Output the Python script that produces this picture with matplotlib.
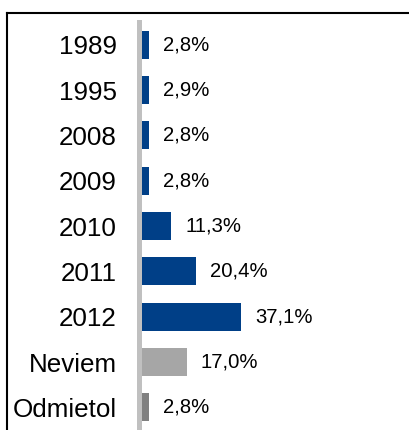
import matplotlib

matplotlib.use("Agg")
import matplotlib.pyplot as plt
from matplotlib.lines import Line2D

categories = ["1989", "1995", "2008", "2009", "2010", "2011", "2012", "Neviem", "Odmietol"]
values = [2.8, 2.9, 2.8, 2.8, 11.3, 20.4, 37.1, 17.0, 2.8]
labels = ["2,8%", "2,9%", "2,8%", "2,8%", "11,3%", "20,4%", "37,1%", "17,0%", "2,8%"]
colors = ["#003f87"] * 7 + ["#a6a6a6", "#808080"]

plt.rcParams["font.family"] = ["Liberation Sans", "DejaVu Sans"]

fig = plt.figure(figsize=(4.1, 4.3), dpi=100)
ax = fig.add_axes([141 / 410, 0, 1 - 141 / 410, 408 / 430])

y = list(range(len(categories)))
ax.barh(y, values, height=0.62, color=colors)
for yi, v, lab in zip(y, values, labels):
    ax.text(v + 5.3, yi, lab, va="center", ha="left", fontsize=14.6)

ax.set_xlim(0, 100)
ax.set_ylim(len(categories) - 0.5, -0.5)
ax.set_yticks(y)
ax.set_yticklabels(categories)
ax.tick_params(axis="y", length=0, pad=16, labelsize=18.7)
ax.set_xticks([])
for s in ["top", "right", "bottom"]:
    ax.spines[s].set_visible(False)
ax.spines["left"].set_color("#c0c0c0")
ax.spines["left"].set_linewidth(3.6)
ax.spines["left"].set_position(("outward", 1.5))

# outer frame (only top and left edges fall inside the image)
fig.add_artist(Line2D([7 / 410, 1], [1 - 13 / 430] * 2, color="black", lw=1.5,
                      transform=fig.transFigure))
fig.add_artist(Line2D([7 / 410] * 2, [0, 1 - 13 / 430], color="black", lw=1.5,
                      transform=fig.transFigure))

fig.savefig("out.png", dpi=100)
